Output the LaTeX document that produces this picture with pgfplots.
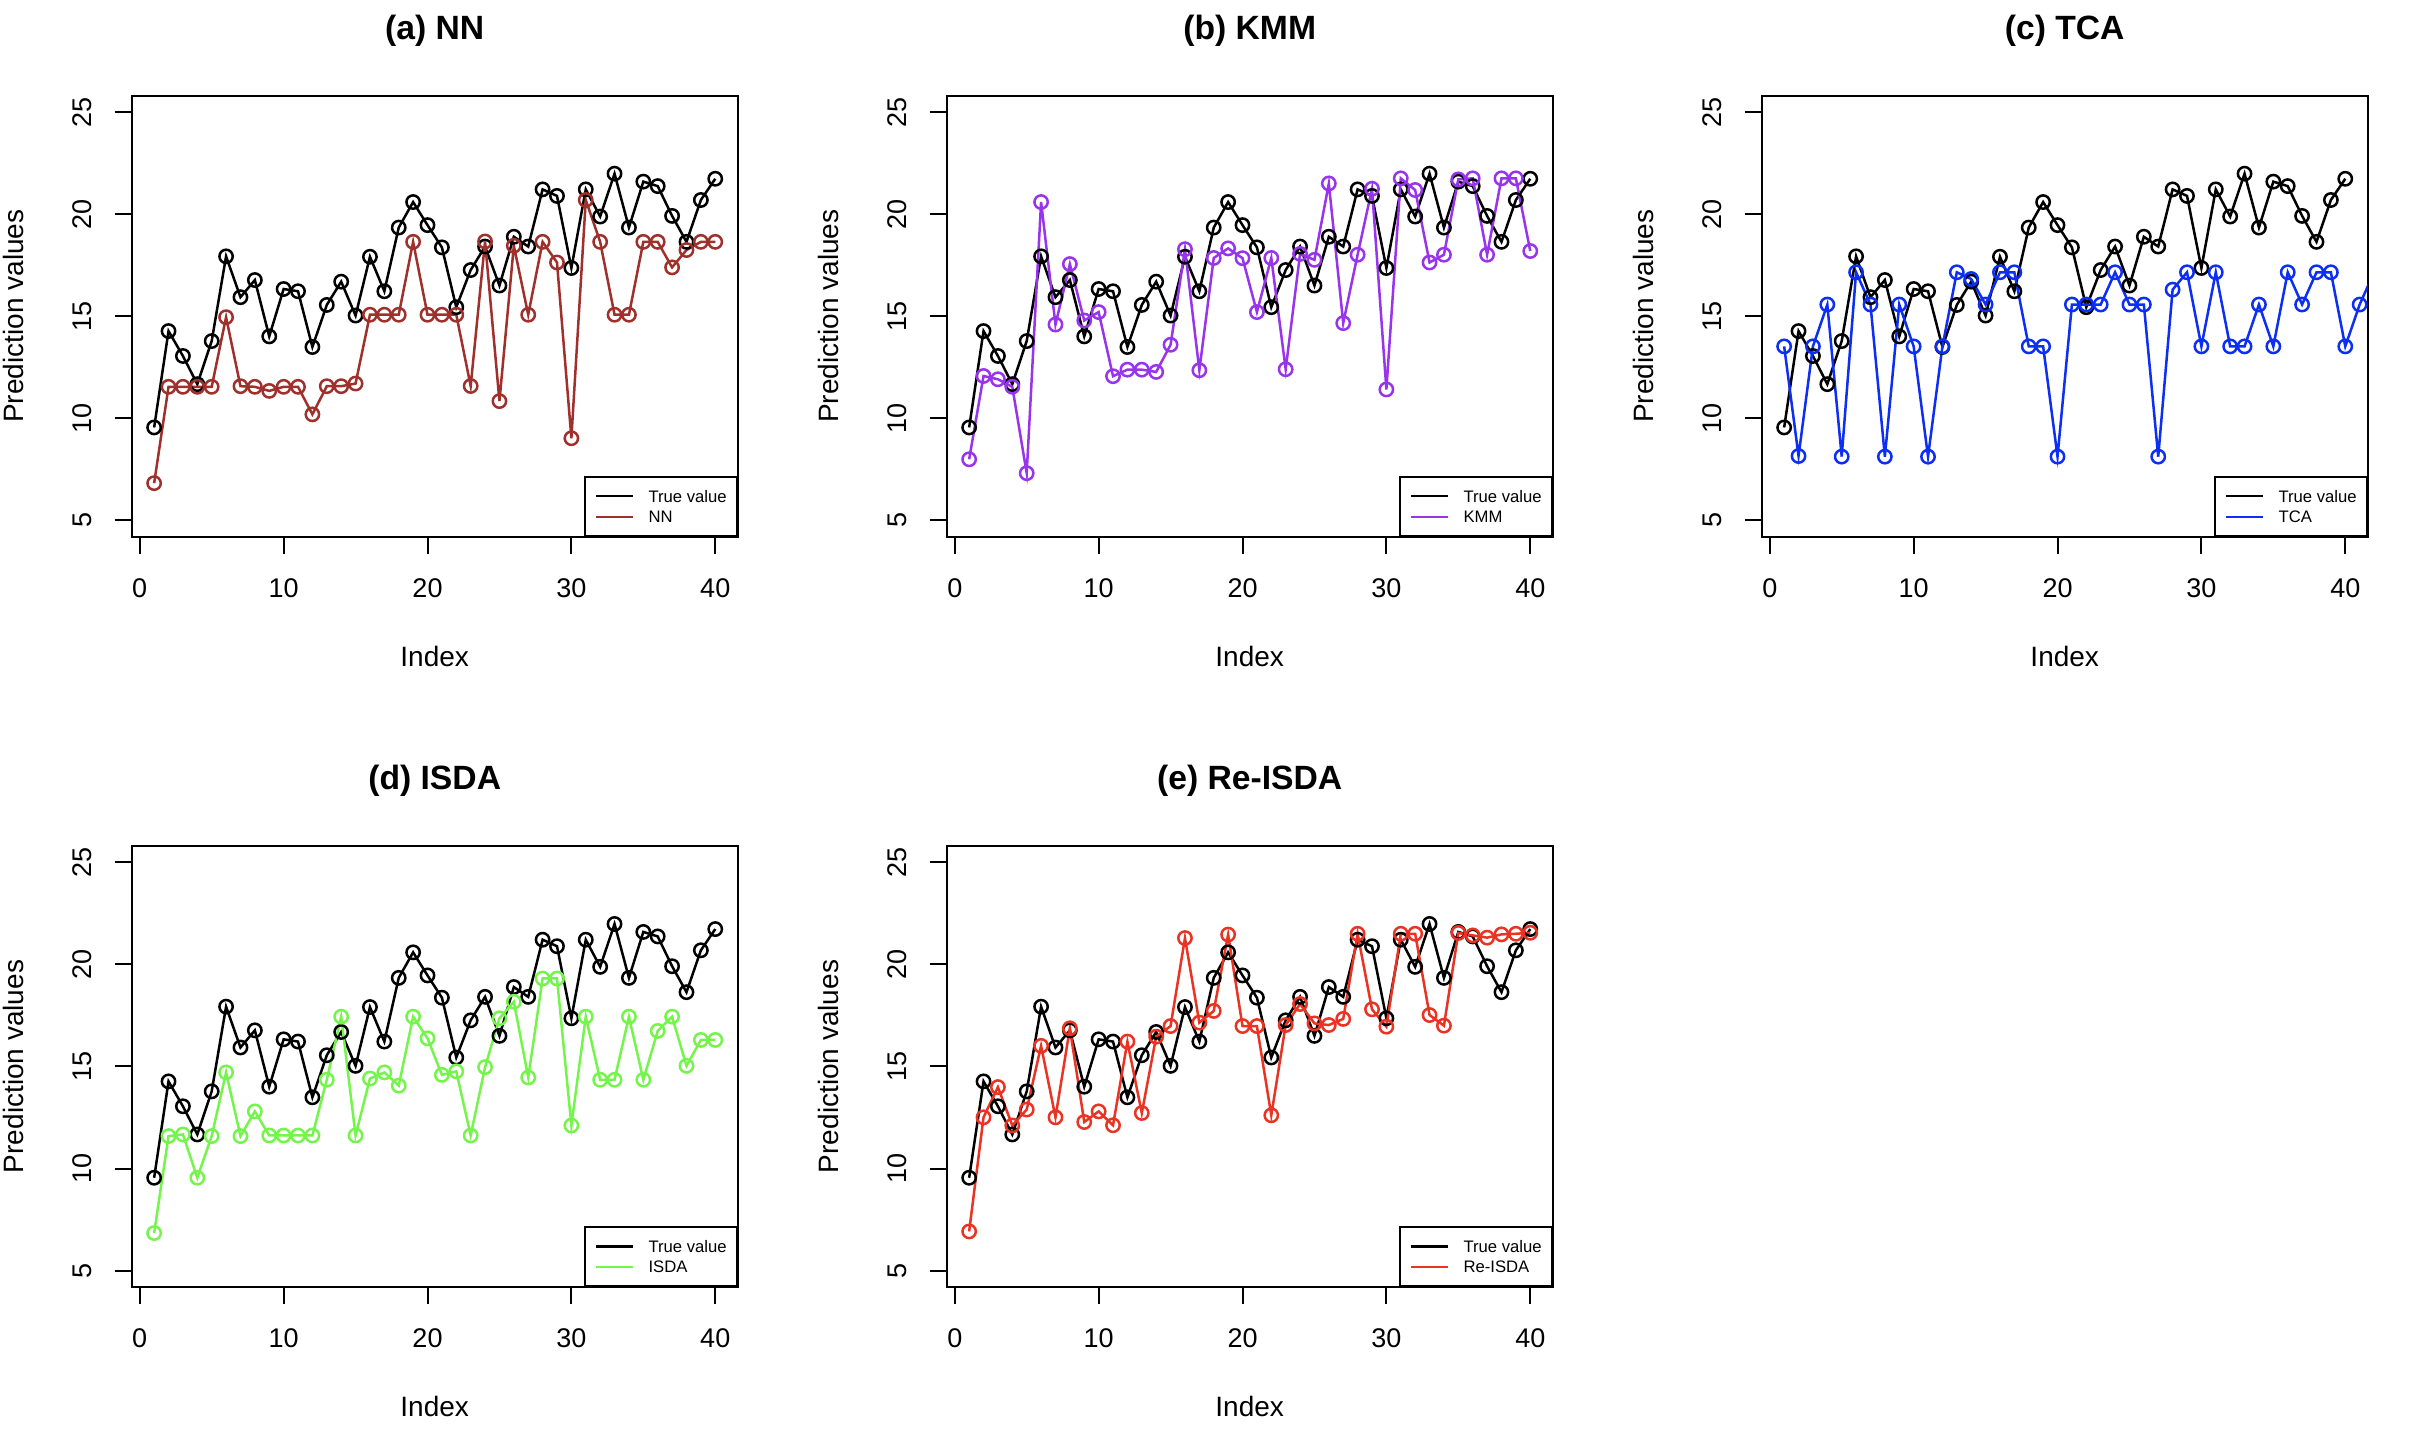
\documentclass[border=0pt]{standalone}
\usepackage{fontspec}
\setmainfont{Liberation Sans}
\usepackage{pgfplots}
\usepackage{pgfplotstable}
\pgfplotsset{compat=1.18}

\definecolor{cnn}{RGB}{160,48,44}
\definecolor{ckmm}{RGB}{152,52,235}
\definecolor{ctca}{RGB}{12,46,245}
\definecolor{cisda}{RGB}{117,245,76}
\definecolor{creisda}{RGB}{234,51,35}

\pgfplotstableread{
x true nn kmm isda reisda
1 9.55 6.82 7.99 6.84 6.92
2 14.27 11.54 12.07 11.59 12.51
3 13.05 11.54 11.91 11.67 13.99
4 11.67 11.54 11.54 9.55 12.11
5 13.78 11.54 7.31 11.59 12.89
6 17.93 14.95 20.59 14.71 16.01
7 15.93 11.57 14.59 11.59 12.51
8 16.77 11.54 17.55 12.80 16.87
9 14.01 11.34 14.79 11.62 12.28
10 16.33 11.54 15.20 11.62 12.80
11 16.22 11.54 12.06 11.62 12.12
12 13.49 10.19 12.38 11.62 16.22
13 15.55 11.57 12.38 14.35 12.72
14 16.69 11.57 12.27 17.44 16.46
15 15.03 11.70 13.60 11.62 16.98
16 17.91 15.07 18.28 14.41 21.29
17 16.22 15.07 12.35 14.71 17.15
18 19.34 15.07 17.85 14.06 17.72
19 20.59 18.64 18.32 17.44 21.46
20 19.46 15.07 17.84 16.38 16.98
21 18.37 15.07 15.20 14.59 16.98
22 15.44 15.07 17.85 14.76 12.61
23 17.26 11.58 12.40 11.62 17.03
24 18.41 18.66 18.05 14.97 18.06
25 16.50 10.84 17.76 17.36 17.11
26 18.89 18.45 21.50 18.17 17.03
27 18.41 15.07 14.66 14.46 17.33
28 21.21 18.64 18.01 19.31 21.50
29 20.89 17.63 21.24 19.31 17.80
30 17.36 9.02 11.41 12.11 16.95
31 21.21 20.69 21.75 17.44 21.50
32 19.88 18.64 21.18 14.35 21.50
33 21.98 15.07 17.63 14.35 17.52
34 19.34 15.07 18.01 17.44 17.00
35 21.59 18.64 21.70 14.35 21.54
36 21.37 18.64 21.75 16.74 21.42
37 19.91 17.39 18.01 17.44 21.31
38 18.64 18.24 21.75 15.03 21.47
39 20.69 18.64 21.75 16.30 21.50
40 21.73 18.64 18.19 16.30 21.55
}\data

\pgfplotstableread{
x tca
1 13.52
2 8.15
3 13.52
4 15.57
5 8.12
6 17.15
7 15.57
8 8.12
9 15.57
10 13.52
11 8.12
12 13.52
13 17.15
14 16.82
15 15.57
16 17.15
17 17.15
18 13.52
19 13.52
20 8.12
21 15.57
22 15.57
23 15.57
24 17.15
25 15.57
26 15.57
27 8.12
28 16.30
29 17.15
30 13.52
31 17.15
32 13.52
33 13.52
34 15.57
35 13.52
36 17.15
37 15.57
38 17.15
39 17.15
40 13.52
41 15.57
42 17.15
}\tcadata

\pgfplotsset{
  panel/.style={
    scale only axis, width=181.8pt, height=132.3pt,
    xmin=-0.56, xmax=41.56, ymin=4.2, ymax=25.8,
    xtick={0,10,20,30,40}, ytick={5,10,15,20,25},
    tick align=outside, major tick length=5.1pt, tick pos=left,
    axis line style={line width=0.6pt},
    every tick/.style={black, line width=0.6pt},
    /pgf/number format/assume math mode=true,
    tick label style={font=\fontsize{8.1}{9}\selectfont, inner sep=0pt},
    yticklabel style={rotate=90, anchor=south},
    xticklabel style={anchor=north},
    yticklabel shift=6.6pt, xticklabel shift=7.2pt,
    every axis title shift=0pt,
    title style={at={(0.5,1.148)}, anchor=center, inner sep=0pt,
      font=\bfseries\fontsize{10.1}{12}\selectfont},
    xlabel={Index}, ylabel={Prediction values},
    xlabel style={at={(0.5,-0.271)}, anchor=center, inner sep=0pt,
      font=\fontsize{8.4}{10}\selectfont},
    ylabel style={at={(-0.1955,0.5)}, anchor=center, inner sep=0pt,
      font=\fontsize{8.4}{10}\selectfont},
    legend style={at={(1,0)}, anchor=south east, draw=black, line width=0.6pt,
      fill=white, inner xsep=3pt, inner ysep=3.9pt,
      font=\fontsize{5}{6}\selectfont, row sep=2.7pt, column sep=4.2pt,
      nodes={inner sep=0pt, text depth=0pt}},
    legend cell align=left,
    legend image code/.code={\path (-1.5pt,0pt) -- (0pt,0pt);
      \draw[##1] (0pt,0pt) -- (9.6pt,0pt);},
  },
  series/.style={line width=0.75pt, mark=o, mark size=2pt,
    mark options={solid, line width=0.75pt}, forget plot},
}

\begin{document}
\begin{tikzpicture}
\useasboundingbox (0pt,0pt) rectangle (723pt,430.2pt);

\begin{axis}[panel, at={(39.51pt,401.49pt)}, anchor=north west, title={(a) NN}]
\addplot[series, black] table[x=x,y=true]{\data};
\addplot[series, cnn] table[x=x,y=nn]{\data};
\addlegendimage{black, line width=0.75pt}\addlegendentry{True value}
\addlegendimage{cnn, line width=0.75pt}\addlegendentry{NN}
\end{axis}

\begin{axis}[panel, at={(284.01pt,401.49pt)}, anchor=north west, title={(b) KMM}]
\addplot[series, black] table[x=x,y=true]{\data};
\addplot[series, ckmm] table[x=x,y=kmm]{\data};
\addlegendimage{black, line width=0.75pt}\addlegendentry{True value}
\addlegendimage{ckmm, line width=0.75pt}\addlegendentry{KMM}
\end{axis}

\begin{axis}[panel, at={(528.51pt,401.49pt)}, anchor=north west, title={(c) TCA}]
\addplot[series, black] table[x=x,y=true]{\data};
\addplot[series, ctca] table[x=x,y=tca]{\tcadata};
\addlegendimage{black, line width=0.75pt}\addlegendentry{True value}
\addlegendimage{ctca, line width=0.75pt}\addlegendentry{TCA}
\end{axis}

\begin{axis}[panel, at={(39.51pt,176.4pt)}, anchor=north west, title={(d) ISDA}]
\addplot[series, black] table[x=x,y=true]{\data};
\addplot[series, cisda] table[x=x,y=isda]{\data};
\addlegendimage{black, line width=0.75pt}\addlegendentry{True value}
\addlegendimage{cisda, line width=0.75pt}\addlegendentry{ISDA}
\end{axis}

\begin{axis}[panel, at={(284.01pt,176.4pt)}, anchor=north west, title={(e) Re-ISDA}]
\addplot[series, black] table[x=x,y=true]{\data};
\addplot[series, creisda] table[x=x,y=reisda]{\data};
\addlegendimage{black, line width=0.75pt}\addlegendentry{True value}
\addlegendimage{creisda, line width=0.75pt}\addlegendentry{Re-ISDA}
\end{axis}
\end{tikzpicture}
\end{document}
